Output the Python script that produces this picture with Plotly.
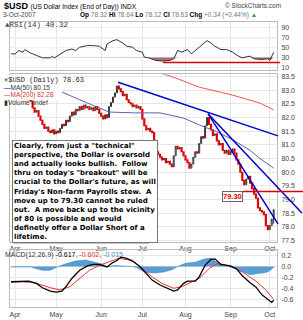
import plotly.graph_objects as go
import pandas as pd

# ---------------- data ----------------
dates = pd.bdate_range("2007-03-29", "2007-10-03")
close = [82.95, 82.85, 82.90, 82.75, 82.80, 82.70, 82.85, 82.75, 82.65, 82.70, 82.60,
         82.35, 82.20, 82.25, 82.05, 81.90,
         81.75, 81.60, 81.65, 81.50, 81.45, 81.55, 81.40, 81.50, 81.45,
         81.60, 81.75, 81.70, 81.90, 81.85, 82.05,
         82.20, 82.10, 82.30, 82.25, 82.40,
         82.30, 82.45, 82.35, 82.40, 82.30, 82.35, 82.25, 82.40, 82.30, 82.15,
         82.05, 81.95, 82.10, 82.00,
         82.40, 82.55, 82.75, 82.90,
         83.15, 83.05,
         82.95, 82.80, 82.85, 82.65, 82.55, 82.50,
         82.40, 82.45, 82.35, 82.40, 82.30,
         81.95, 81.70, 81.55,
         81.60, 81.50, 81.45,
         80.85, 80.75, 80.65,
         80.55, 80.45, 80.50, 80.35, 80.40,
         80.30, 80.20, 80.60, 80.95, 80.85, 80.90, 80.75, 80.60,
         80.45, 80.35, 80.15, 80.30,
         80.55, 80.75, 80.70, 81.05,
         81.30, 81.25, 81.70,
         82.00, 81.75,
         81.55, 81.35, 81.40,
         81.15, 81.00, 81.05,
         80.80, 80.70, 80.80, 80.65,
         80.75, 80.85, 80.70,
         80.45, 80.30, 80.00,
         79.70, 79.55,
         79.75, 79.85, 79.60,
         79.40, 79.20, 79.05,
         78.70, 78.60, 78.55,
         78.45, 78.05, 77.90,
         78.05, 78.29, 78.63]
last_ohlc = (78.32, 78.64, 78.12, 78.63)

ma50_pos = [0, 26, 35, 50, 63, 76, 88, 96, 105, 113, 122, 127, 134]
ma50_val = [83.40, 82.93, 82.65, 82.20, 82.17, 82.17, 81.98, 81.73, 81.48, 81.19, 80.80, 80.50, 80.15]
ma200_pos = [0, 71, 83, 96, 113, 127, 134]
ma200_val = [84.60, 83.75, 83.47, 83.11, 82.82, 82.53, 82.28]

rsi_pos = [0, 2, 4, 6, 7, 10, 13, 16, 20, 21, 22, 25, 28, 31, 33, 35, 39, 42, 45, 48, 49, 52, 54, 57,
           59, 62, 64, 67, 68, 70, 72, 74, 77, 81, 83, 85, 87, 90, 92, 95, 97, 100, 102, 104, 107,
           110, 113, 116, 118, 122, 124, 128, 131, 132, 134]
rsi_val = [37.4, 37, 44, 40.7, 46, 39, 34, 29.3, 29.3, 32.7, 29, 37, 44, 47, 44, 50.7, 54, 54, 52.7,
           44, 57.3, 64, 66, 59, 52.7, 50.7, 44, 40.7, 30.7, 29.3, 27.3, 24, 22.7, 24, 27.3, 44,
           40.7, 46, 37.3, 47.3, 52.7, 64, 59.3, 52.7, 46, 46, 40.7, 32.7, 29.3, 32.7, 27.3, 26,
           27.3, 24, 40.3]

macd_pos = [0, 5, 9, 13, 16, 20, 23, 26, 28, 31, 35, 39, 42, 45, 49, 51, 54, 56, 59, 62, 66, 69,
            72, 76, 80, 83, 85, 88, 90, 94, 96, 99, 102, 104, 107, 112, 115, 118, 122, 125, 128,
            131, 133, 134]
macd_val = [-0.28, -0.27, -0.27, -0.31, -0.39, -0.45, -0.47, -0.45, -0.37, -0.22, -0.07, 0.01,
            0.04, 0.04, -0.01, 0.05, 0.11, 0.17, 0.15, 0.10, -0.01, -0.13, -0.25, -0.34, -0.41,
            -0.45, -0.43, -0.31, -0.27, -0.27, -0.19, 0.02, 0.13, 0.14, 0.04, 0.01, -0.04, -0.17,
            -0.30, -0.38, -0.52, -0.60, -0.66, -0.617]
signal_pos = [0, 5, 10, 15, 20, 25, 30, 35, 40, 45, 50, 55, 62, 67, 72, 77, 83, 87, 91, 96, 101,
              105, 108, 113, 118, 125, 130, 134]
signal_val = [-0.29, -0.28, -0.29, -0.33, -0.39, -0.43, -0.37, -0.22, -0.07, 0.02, 0.09, 0.15,
              0.11, -0.04, -0.19, -0.31, -0.40, -0.37, -0.31, -0.22, -0.04, 0.05, 0.04, -0.01,
              -0.10, -0.27, -0.43, -0.602]
hist_pos = [0, 10, 12, 16, 20, 22, 24, 28, 33, 38, 43, 47, 49, 53, 57, 62, 64, 68, 73, 78, 82, 85,
            89, 94, 99, 102, 104, 107, 111, 114, 119, 122, 126, 130, 132, 134]
hist_val = [-0.01, -0.01, -0.03, -0.07, -0.07, -0.03, 0.0, 0.05, 0.10, 0.12, 0.08, 0.04, 0.0, 0.02,
            0.01, 0.0, -0.02, -0.10, -0.12, -0.10, -0.06, 0.0, 0.06, 0.08, 0.14, 0.15, 0.10, 0.03,
            0.0, -0.04, -0.12, -0.15, -0.13, -0.11, -0.08, -0.015]

# trend lines: (start pos, start price, end pos, end price)
trendlines = [(54.6, 83.29, 136.2, 81.33),
              (100.5, 82.14, 136.2, 78.11),
              (100.5, 82.14, 148.4, 78.51)]
resistance = 79.30
rsi_floor = 20
months = ["Apr", "May", "Jun", "Jul", "Aug", "Sep", "Oct"]

# ---------------- derived ----------------
pos = list(range(len(dates)))
opens = [close[0]] + close[:-1]
highs = [max(o, c) for o, c in zip(opens, close)]
lows = [min(o, c) for o, c in zip(opens, close)]
opens[-1], highs[-1], lows[-1], close_last = last_ohlc
month_ticks = []
seen = set()
for i, d in enumerate(dates):
    if d.month >= 4 and d.month not in seen:
        seen.add(d.month)
        month_ticks.append(i)

XR = [-0.55, 135.7]
W, H = 303, 320
XD = [10 / W, 277 / W]
Y_RSI = [1 - 70 / H, 1 - 21 / H]
Y_MAIN = [1 - 243 / H, 1 - 74 / H]
Y_MACD = [1 - 309 / H, 1 - 251 / H]


def xdom(p):
    return (p - XR[0]) / (XR[1] - XR[0])


FONT = "Liberation Sans, Arial, sans-serif"
fig = go.Figure()

# RSI panel
rsi_clip = [min(v, 30) for v in rsi_val]
fig.add_trace(go.Scatter(x=rsi_pos, y=[30] * len(rsi_pos), mode="lines", line=dict(width=0),
                         xaxis="x2", yaxis="y2", hoverinfo="skip", showlegend=False))
fig.add_trace(go.Scatter(x=rsi_pos, y=rsi_clip, mode="lines", line=dict(width=0), fill="tonexty",
                         fillcolor="rgba(140,60,70,0.75)", xaxis="x2", yaxis="y2",
                         hoverinfo="skip", showlegend=False))
fig.add_trace(go.Scatter(x=rsi_pos, y=rsi_val, mode="lines", line=dict(color="#333", width=1),
                         xaxis="x2", yaxis="y2", showlegend=False))

# main panel
fig.add_trace(go.Scatter(x=ma200_pos, y=ma200_val, mode="lines",
                         line=dict(color="#ee5555", width=1), xaxis="x", yaxis="y", showlegend=False))
fig.add_trace(go.Scatter(x=ma50_pos, y=ma50_val, mode="lines",
                         line=dict(color="#6060b0", width=1), xaxis="x", yaxis="y", showlegend=False))
fig.add_trace(go.Candlestick(x=pos, open=opens, high=highs, low=lows, close=close,
                             increasing=dict(line=dict(color="#333", width=1), fillcolor="#ffffff"),
                             decreasing=dict(line=dict(color="#dd0000", width=1.2), fillcolor="#dd0000"),
                             whiskerwidth=0, xaxis="x", yaxis="y", showlegend=False))

# MACD panel
fig.add_trace(go.Scatter(x=hist_pos, y=hist_val, mode="lines", line=dict(width=0.5, color="#2a7fc0"),
                         fill="tozeroy", fillcolor="rgba(60,140,205,0.85)",
                         xaxis="x3", yaxis="y3", showlegend=False))
fig.add_trace(go.Scatter(x=signal_pos, y=signal_val, mode="lines", line=dict(color="#ee3333", width=1),
                         xaxis="x3", yaxis="y3", showlegend=False))
fig.add_trace(go.Scatter(x=macd_pos, y=macd_val, mode="lines", line=dict(color="#000", width=1.3),
                         xaxis="x3", yaxis="y3", showlegend=False))

shapes = []
# RSI guide lines
for lv, dash, col in [(70, "solid", "#999"), (30, "solid", "#999"), (50, "dashdot", "#999")]:
    shapes.append(dict(type="line", xref="x2 domain", yref="y2", x0=0, x1=1, y0=lv, y1=lv,
                       line=dict(color=col, width=1, dash=dash), layer="below"))
shapes.append(dict(type="line", xref="x2 domain", yref="y2", x0=xdom(77.5), x1=xdom(137.2),
                   y0=rsi_floor, y1=rsi_floor, line=dict(color="#dd0000", width=1.5)))
# trend lines
for (p0, v0, p1, v1) in trendlines:
    shapes.append(dict(type="line", xref="x domain", yref="y", x0=xdom(p0), x1=xdom(p1),
                       y0=v0, y1=v1, line=dict(color="#0000cc", width=1.5)))
# resistance line
shapes.append(dict(type="line", xref="x domain", yref="y", x0=xdom(118.3), x1=1.1,
                   y0=resistance, y1=resistance, line=dict(color="#dd0000", width=1.5)))
# legend backdrop in main panel
shapes.append(dict(type="rect", xref="paper", yref="paper", x0=2 / W, x1=62 / W,
                   y0=1 - 100 / H, y1=1 - 75 / H, fillcolor="white", line=dict(width=0), layer="above"))
# text box shadow
shapes.append(dict(type="rect", xref="paper", yref="paper", x0=14 / W, x1=149 / W,
                   y0=1 - 245 / H, y1=1 - 142 / H, fillcolor="#b0b0b0", line=dict(width=0), layer="above"))

annotations = []


def txt(x, y, text, size=7, color="#000", xanchor="left", yanchor="middle", family=FONT, **kw):
    annotations.append(dict(x=x / W, y=1 - y / H, xref="paper", yref="paper", text=text,
                            showarrow=False, xanchor=xanchor, yanchor=yanchor,
                            font=dict(size=size, color=color, family=family), **kw))


txt(2, 5, "<b>$USD</b> <span style='font-size:6.5px'>(US Dollar Index (End of Day)) INDX</span>", size=9)
txt(283, 5, "© StockCharts.com", size=6.5, color="#444", xanchor="right")
txt(1, 14, "3-Oct-2007", size=6.5, color="#444")
txt(78, 14, "<b>Op</b> <span style='color:#777'>78.32</span> <b>Hi</b> <span style='color:#777'>78.64</span> "
            "<b>Lo</b> <span style='color:#777'>78.12</span> <b>Cl</b> <span style='color:#777'>78.63</span> "
            "<b>Chg</b> <span style='color:#777'>+0.34 (+0.44%)</span> <span style='color:#2a2'>▲</span>",
    size=6.5)
txt(3, 24, "<span style='color:#555'>▲</span>RSI(14) 40.32", size=7.5, color="#333",
    family="Liberation Mono, monospace")
txt(2, 80, "✕$USD (Daily) 78.63", size=7, color="#222", family="Liberation Mono, monospace")
txt(2, 88, "<span style='color:#000080'>—</span>MA(50) 80.15", size=6.5, color="#333")
txt(2, 95, "<span style='color:#dd3333'>—</span><span style='color:#dd3333'>MA(200) 82.28</span>",
    size=6.5, color="#333")
txt(2, 102, "▮Volume undef", size=6.5, color="#333")
txt(3, 256, "MACD(12,26,9) <span style='color:#000'>-0.617</span>, <span style='color:#dd3333'>-0.602</span>,"
            " <span style='color:#3399cc'>-0.015</span>", size=7, color="#333")

note = ("Clearly, from just a \"technical\"<br>perspective, the Dollar is oversold<br>"
        "and actually looks bullish.  Follow<br>thru on today's \"breakout\" will be<br>"
        "crucial to the Dollar's future, as will<br>Friday's Non-farm Payrolls stew.  A<br>"
        "move up to 79.30 cannot be ruled<br>out.  A move back up to the vicinity<br>"
        "of 80 is possible and would<br>definetly offer a Dollar Short of a<br>lifetime.")
annotations.append(dict(x=12 / W, y=1 - 140 / H, xref="paper", yref="paper", text="<b>" + note + "</b>",
                        showarrow=False, xanchor="left", yanchor="top", align="left",
                        bgcolor="white", bordercolor="#777", borderwidth=1, borderpad=1,
                        font=dict(size=7, color="#000", family="DejaVu Sans, Verdana, sans-serif")))
annotations.append(dict(x=xdom(112.8), y=resistance, xref="x domain", yref="y", text="<b>79.30</b>",
                        showarrow=False, xanchor="center", yanchor="top", bgcolor="white",
                        bordercolor="#666", borderwidth=1, borderpad=0,
                        font=dict(size=7.5, color="#dd0000", family=FONT)))

axis_common = dict(range=XR, domain=XD, tickvals=month_ticks, ticktext=months,
                   showgrid=True, gridcolor="#e6e6e6", gridwidth=1, zeroline=False,
                   showline=True, linecolor="#bbb", mirror=True, ticks="",
                   tickfont=dict(size=7, family=FONT, color="#444"))
yfont = dict(size=7, family=FONT, color="#444")
fig.update_layout(
    width=W, height=H, margin=dict(l=0, r=0, t=0, b=0),
    paper_bgcolor="white", plot_bgcolor="white",
    xaxis=dict(axis_common, anchor="y", rangeslider=dict(visible=False)),
    xaxis2=dict(axis_common, anchor="y2", showticklabels=False),
    xaxis3=dict(axis_common, anchor="y3"),
    yaxis=dict(domain=Y_MAIN, range=[77.46, 83.58], side="right", anchor="x", dtick=0.5,
               tickformat=".1f", gridcolor="#e6e6e6", zeroline=False, showline=True,
               linecolor="#bbb", mirror=True, tickfont=yfont, ticks="outside", ticklen=2,
               tickcolor="white"),
    yaxis2=dict(domain=Y_RSI, range=[4, 102], side="right", anchor="x2",
                tickvals=[10, 30, 50, 70, 90], gridcolor="#eeeeee", zeroline=False, showline=True,
                linecolor="#bbb", mirror=True, tickfont=yfont, ticks="outside", ticklen=2,
                tickcolor="white"),
    yaxis3=dict(domain=Y_MACD, range=[-0.745, 0.309], side="right", anchor="x3",
                tickvals=[-0.6, -0.4, -0.2, 0.0, 0.2], ticktext=["-0.6", "-0.4", "-0.2", "0.0", "0.2"],
                gridcolor="#e6e6e6", zeroline=False, showline=True, linecolor="#bbb", mirror=True,
                tickfont=yfont, ticks="outside", ticklen=2, tickcolor="white"),
    shapes=shapes, annotations=annotations, showlegend=False,
)
fig.write_html("out.html")
